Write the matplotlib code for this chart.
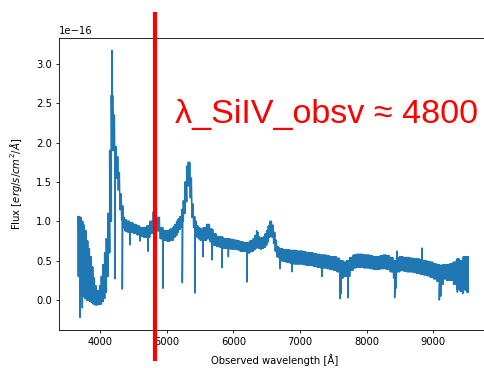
import numpy as np
import matplotlib
matplotlib.use('Agg')
import matplotlib.pyplot as plt
from matplotlib.lines import Line2D

# spectrum (flux in units of 1e-16)
# each bin starts at wave[i]; flux_top / flux_bot are the edges of the noise band
wave = (list(range(3670, 4445, 25)) + list(range(4450, 5100, 50)) +
        list(range(5100, 5500, 25)) + list(range(5500, 6300, 50)) +
        list(range(6300, 6700, 25)) + list(range(6700, 9550, 50)))
wave_end = 9530
flux_top = [1.06, 1.05, 1.00, 0.95, 0.88, 0.75, 0.65, 0.55, 0.42, 0.28,
            0.18, 0.12, 0.12, 0.18, 0.30, 0.45, 0.60, 0.78, 1.10, 1.90,
            2.60, 2.35, 1.95, 1.82, 1.62, 1.35, 1.20, 1.05, 1.02, 1.00,
            1.00,
            0.98, 0.96, 0.94, 0.92, 0.92, 0.94, 1.00, 1.12, 1.05, 0.92,
            0.88, 0.88, 0.90,
            0.93, 0.96, 1.00, 1.03, 1.06, 1.15, 1.26, 1.50, 1.70, 1.75,
            1.55, 1.22, 1.06, 1.00, 0.94, 0.92,
            0.90, 0.92, 0.96, 0.90, 0.84, 0.80, 0.80, 0.78, 0.78, 0.77,
            0.76, 0.75, 0.74, 0.73, 0.73, 0.75,
            0.78, 0.82, 0.86, 0.80, 0.78, 0.79, 0.80, 0.84, 0.88, 0.94,
            1.00, 0.95, 0.86, 0.76, 0.68, 0.66,
            0.65, 0.64, 0.64, 0.63, 0.63, 0.62, 0.62, 0.61, 0.60, 0.60,
            0.59, 0.58, 0.57, 0.57, 0.56, 0.55, 0.55, 0.53, 0.50, 0.48,
            0.50, 0.54, 0.57, 0.58, 0.58, 0.57, 0.57, 0.56, 0.55, 0.55,
            0.56, 0.57, 0.56, 0.54, 0.50, 0.54, 0.55, 0.54, 0.54, 0.53,
            0.52, 0.52, 0.51, 0.50, 0.49, 0.48, 0.46, 0.45, 0.44, 0.45,
            0.45, 0.46, 0.48, 0.52, 0.50, 0.55, 0.55]
flux_bot = [0.30, 0.10, 0.05, 0.05, 0.02, 0.00, 0.00, -0.02, -0.03, -0.05,
            -0.06, -0.06, -0.05, -0.05, -0.02, 0.02, 0.10, 0.30, 0.60, 1.00,
            1.90, 1.95, 1.70, 1.55, 1.40, 1.15, 1.02, 0.92, 0.88, 0.87,
            0.86,
            0.86, 0.85, 0.83, 0.81, 0.80, 0.80, 0.85, 0.95, 0.88, 0.78,
            0.76, 0.75, 0.76,
            0.80, 0.82, 0.86, 0.90, 0.93, 1.00, 1.10, 1.25, 1.45, 1.50,
            1.30, 1.05, 0.92, 0.86, 0.80, 0.78,
            0.76, 0.76, 0.78, 0.74, 0.70, 0.68, 0.67, 0.66, 0.66, 0.65,
            0.65, 0.64, 0.62, 0.62, 0.60, 0.62,
            0.64, 0.66, 0.70, 0.66, 0.65, 0.66, 0.67, 0.70, 0.74, 0.80,
            0.84, 0.80, 0.72, 0.62, 0.55, 0.54,
            0.50, 0.49, 0.48, 0.47, 0.46, 0.46, 0.46, 0.45, 0.44, 0.44,
            0.43, 0.42, 0.41, 0.41, 0.40, 0.39, 0.38, 0.36, 0.28, 0.30,
            0.30, 0.38, 0.41, 0.42, 0.42, 0.41, 0.41, 0.40, 0.39, 0.39,
            0.40, 0.40, 0.39, 0.36, 0.28, 0.36, 0.38, 0.37, 0.36, 0.36,
            0.35, 0.34, 0.33, 0.32, 0.31, 0.29, 0.27, 0.24, 0.20, 0.27,
            0.25, 0.25, 0.20, 0.14, 0.11, 0.13, 0.10]

# narrow lines (absorption dips and emission spikes)
line_wave = [3700, 3735, 3760, 4180, 4195, 4225, 4335, 4450, 4600, 4720,
             4945, 5235, 5425, 5545, 5680, 5830, 5925, 6205, 6350, 6700,
             6880, 7330, 7600, 7615, 7720, 8420, 8440, 8455, 8830, 9090,
             9110, 9360, 9440, 9500]
line_flux = [-0.22, -0.10, 0.95, 3.17, 2.40, 0.27, 0.14, 0.70, 0.75, 0.62,
             0.15, 0.22, 0.09, 0.55, 0.51, 0.41, 0.55, 0.23, 0.88, 0.40,
             0.36, 0.30, 0.02, 0.08, 0.03, 0.03, 0.15, 0.62, 0.66, 0.00,
             0.05, 0.10, 0.08, 0.12]

# draw each bin as a fast up/down scribble between its two edges
edges = wave + [wave_end]
x = []
y = []
for i in range(len(wave)):
    for s in range(edges[i], edges[i + 1], 10):
        x += [s, s + 5]
        y += [flux_top[i], flux_bot[i]]
x += line_wave
y += line_flux
order = np.argsort(x, kind='stable')
x = np.array(x)[order]
y = np.array(y)[order] * 1e-16

plt.rcParams['font.size'] = 7.2
plt.rcParams['axes.linewidth'] = 0.6
plt.rcParams['xtick.major.size'] = 2.5
plt.rcParams['ytick.major.size'] = 2.5
plt.rcParams['xtick.major.width'] = 0.6
plt.rcParams['ytick.major.width'] = 0.6
plt.rcParams['xtick.major.pad'] = 2.5
plt.rcParams['ytick.major.pad'] = 2.5

fig = plt.figure(figsize=(4.85, 3.68), dpi=100)
ax = fig.add_axes([59/485, 38/368, 431/485, 292/368])
ax.plot(x, y, color='#1f77b4', lw=1.1)
ax.set_xlim(3385, 9850)
ax.set_ylim(-0.381e-16, 3.33e-16)
ax.set_xlabel('Observed wavelength [Å]', labelpad=5)
ax.set_ylabel('Flux [$erg/s/cm^2/Å$]', labelpad=9)

fig.add_artist(Line2D([155/485, 155/485], [1 - 14/368, 1 - 359/368],
                      color='red', lw=3, transform=fig.transFigure))
fig.text(175/485, 1 - 123/368, 'λ_SiIV_obsv ≈ 4800', color='red',
         fontsize=24.6, family=['Liberation Sans', 'DejaVu Sans'],
         va='baseline', ha='left')

fig.savefig('out.png', dpi=100)
